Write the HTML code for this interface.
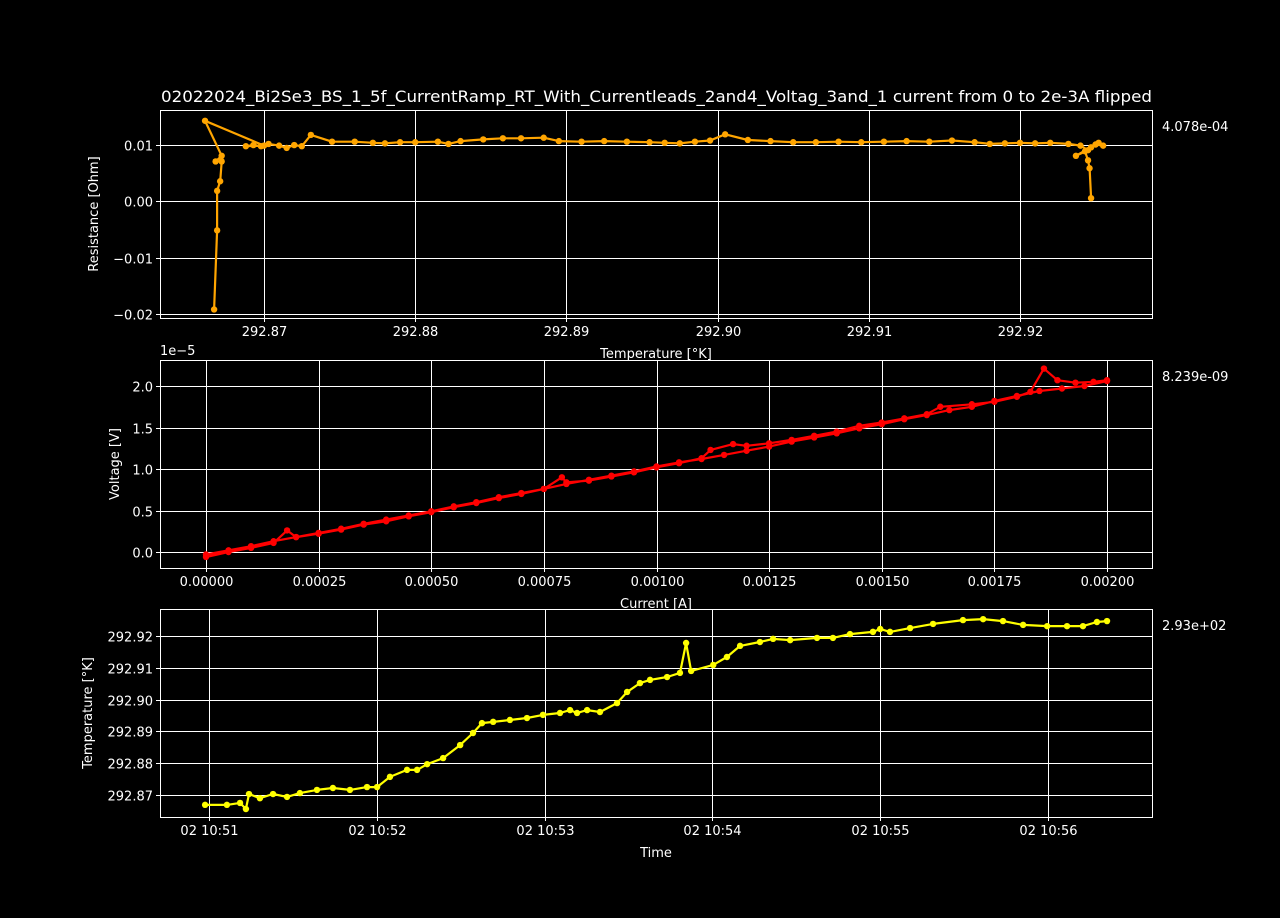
<!DOCTYPE html>
<html><head><meta charset="utf-8"><style>
html,body{margin:0;padding:0;background:#000;}
svg{display:block;font-family:"DejaVu Sans","Liberation Sans",sans-serif;}
</style></head><body>
<svg id="fig" width="1280" height="918" viewBox="0 0 1280 918">
<rect width="1280" height="918" fill="#000"/>
<text x="161" y="102" fill="#fff" font-size="16" textLength="991" lengthAdjust="spacingAndGlyphs">02022024_Bi2Se3_BS_1_5f_CurrentRamp_RT_With_Currentleads_2and4_Voltag_3and_1 current from 0 to 2e-3A flipped</text>
</svg>
<script>
// ---- Panel 1: Resistance vs Temperature ----
const rtTemperature = [292.8667,292.8669,292.8669,292.8671,292.8672,292.8668,292.8672,292.8661,292.8700,292.8688,292.8693,292.8698,292.8703,292.8710,292.8715,292.8720,292.8725,292.8731,292.8745,292.8760,292.8772,292.8780,292.8790,292.8800,292.8815,292.8822,292.8830,292.8845,292.8858,292.8870,292.8885,292.8895,292.8910,292.8925,292.8940,292.8955,292.8965,292.8975,292.8985,292.8995,292.9005,292.9020,292.9035,292.9050,292.9065,292.9080,292.9095,292.9110,292.9125,292.9140,292.9155,292.9170,292.9180,292.9190,292.9200,292.9210,292.9220,292.9232,292.9240,292.9245,292.9237,292.9250,292.9255,292.9252,292.9247,292.9243,292.9245,292.9246,292.9247];
const rtResistance = [-0.0192,-0.0052,0.0018,0.0035,0.0070,0.0070,0.0080,0.0142,0.0098,0.0097,0.0099,0.0097,0.0101,0.0098,0.0094,0.0099,0.0097,0.0117,0.0105,0.0105,0.0103,0.0102,0.0104,0.0104,0.0105,0.0101,0.0106,0.0109,0.0111,0.0111,0.0112,0.0106,0.0105,0.0106,0.0105,0.0104,0.0103,0.0102,0.0105,0.0107,0.0118,0.0108,0.0106,0.0104,0.0104,0.0105,0.0104,0.0105,0.0106,0.0105,0.0107,0.0104,0.0101,0.0102,0.0103,0.0102,0.0103,0.0101,0.0098,0.0090,0.0080,0.0100,0.0098,0.0103,0.0095,0.0088,0.0072,0.0058,0.0005];
const rtXTicks = [292.87,292.88,292.89,292.90,292.91,292.92];
const rtYTicks = [-0.02,-0.01,0.00,0.01];

// ---- Panel 2: Voltage vs Current (current in mA, voltage in 1e-5 V) ----
const ivCurrentMA = [0,0.05,0.10,0.15,0.18,0.20,0.25,0.30,0.35,0.40,0.45,0.50,0.55,0.60,0.65,0.70,0.75,0.79,0.80,0.85,0.90,0.95,1.00,1.05,1.10,1.12,1.17,1.20,1.25,1.30,1.35,1.40,1.45,1.50,1.55,1.60,1.63,1.70,1.75,1.80,1.83,1.86,1.89,1.93,1.97,2.00,
 2.00,1.95,1.90,1.85,1.80,1.75,1.70,1.65,1.60,1.55,1.50,1.45,1.40,1.35,1.30,1.25,1.20,1.15,1.10,1.05,1.00,0.95,0.90,0.85,0.80,0.75,0.70,0.65,0.60,0.55,0.50,0.45,0.40,0.35,0.30,0.25,0.20,0.15,0.10,0.05,0.00];
const ivVoltageE5 = [-0.06,0.00,0.05,0.11,0.26,0.18,0.22,0.27,0.33,0.37,0.43,0.48,0.54,0.59,0.65,0.70,0.76,0.90,0.84,0.86,0.91,0.96,1.02,1.07,1.13,1.23,1.30,1.28,1.31,1.35,1.40,1.45,1.52,1.56,1.61,1.66,1.75,1.78,1.81,1.87,1.93,2.21,2.07,2.04,2.05,2.07,
 2.06,2.00,1.97,1.94,1.88,1.82,1.75,1.71,1.65,1.60,1.54,1.49,1.43,1.38,1.33,1.27,1.22,1.17,1.12,1.08,1.03,0.97,0.92,0.87,0.82,0.76,0.71,0.66,0.60,0.55,0.49,0.44,0.39,0.34,0.28,0.23,0.18,0.13,0.07,0.02,-0.03];
const ivXTicks = [0,0.25,0.5,0.75,1.0,1.25,1.5,1.75,2.0];
const ivXTickLabels = ["0.00000","0.00025","0.00050","0.00075","0.00100","0.00125","0.00150","0.00175","0.00200"];
const ivYTicks = [0,0.5,1.0,1.5,2.0];

// ---- Panel 3: Temperature vs Time (seconds after 10:51:00) ----
const tsSeconds = [-1.4,6.4,11.1,13.2,14.3,18.2,22.9,27.9,32.5,38.6,44.3,50.4,56.5,60.1,64.7,70.8,74.4,78.0,83.7,89.8,94.4,97.6,101.6,107.6,113.7,119.4,125.5,129.1,131.6,135.2,139.8,145.9,149.5,154.1,157.7,163.8,168.4,170.6,172.4,180.3,185.2,189.9,197.0,201.7,207.8,217.4,223.1,229.2,237.4,240.0,243.5,250.7,258.9,269.6,276.8,283.9,291.1,299.7,306.8,312.5,317.5,321.1];
const tsTemperature = [292.8669,292.8669,292.8675,292.8656,292.8703,292.8690,292.8703,292.8694,292.8706,292.8716,292.8722,292.8716,292.8725,292.8725,292.8757,292.8779,292.8779,292.8797,292.8816,292.8857,292.8895,292.8926,292.8930,292.8936,292.8942,292.8952,292.8958,292.8967,292.8958,292.8967,292.8961,292.8989,292.9024,292.9052,292.9062,292.9071,292.9084,292.9178,292.9090,292.9109,292.9134,292.9169,292.9181,292.9191,292.9187,292.9194,292.9194,292.9206,292.9213,292.9222,292.9213,292.9225,292.9238,292.9250,292.9253,292.9247,292.9235,292.9231,292.9231,292.9231,292.9244,292.9247];
const tsXTicks = [0,60,120,180,240,300];
const tsXTickLabels = ["02 10:51","02 10:52","02 10:53","02 10:54","02 10:55","02 10:56"];
const tsYTicks = [292.87,292.88,292.89,292.90,292.91,292.92];

const NS = "http://www.w3.org/2000/svg";
const fig = document.getElementById('fig');
function mk(tag, attrs, parent){
  const e = document.createElementNS(NS, tag);
  for (const k in attrs) e.setAttribute(k, attrs[k]);
  (parent||fig).appendChild(e);
  return e;
}
function lin(d0,d1,r0,r1){ return v => r0 + (v-d0)/(d1-d0)*(r1-r0); }
function snap(v){ return Math.round(v) + 0.5; }

function panel(cfg){
  const g = mk('g', {});
  
  
  const {L,R,T,B} = cfg;
  cfg.xTicks.forEach((v,i)=>{
    const x = snap(cfg.xs(v));
    const gl = mk('line',{x1:x,x2:x,y1:T,y2:B,stroke:'#fff','stroke-width':1},g);
    
    
    mk('line',{x1:x,x2:x,y1:B,y2:B+4,stroke:'#fff','stroke-width':1},g);
    const t = mk('text',{x:x,y:B+18,fill:'#fff','font-size':13,'text-anchor':'middle'},g);
    
    
    t.textContent = cfg.xLabels[i];
  });
  cfg.yTicks.forEach((v,i)=>{
    const y = snap(cfg.ys(v));
    const gl = mk('line',{x1:L,x2:R,y1:y,y2:y,stroke:'#fff','stroke-width':1},g);
    
    
    mk('line',{x1:L-4,x2:L,y1:y,y2:y,stroke:'#fff','stroke-width':1},g);
    const t = mk('text',{x:L-7,y:y+5,fill:'#fff','font-size':13,'text-anchor':'end'},g);
    
    
    t.textContent = cfg.yLabels[i];
  });
  const xs = cfg.xData, ys = cfg.yData;
  let d = '';
  xs.forEach((v,i)=>{ d += (i?'L':'M') + cfg.xs(v).toFixed(1) + ',' + cfg.ys(ys[i]).toFixed(1); });
  const p = mk('path',{d:d,fill:'none',stroke:cfg.color,'stroke-width':2.2,'stroke-linejoin':'round'},g);
  
  
  xs.forEach((v,i)=>{
    const c = mk('circle',{cx:cfg.xs(v),cy:cfg.ys(ys[i]),r:3.2,fill:cfg.color},g);
    
    
  });
  const fr = mk('rect',{x:L+0.5,y:T+0.5,width:R-L,height:B-T,fill:'none',stroke:'#fff','stroke-width':1},g);
  
  
  const xl = mk('text',{x:(L+R)/2,y:B+40,fill:'#fff','font-size':13,'text-anchor':'middle'},g);
  
  
  xl.textContent = cfg.xTitle;
  const cy = (T+B)/2;
  const yl = mk('text',{x:cfg.yTitleX,y:cy,fill:'#fff','font-size':13,'text-anchor':'middle',transform:`rotate(-90 ${cfg.yTitleX} ${cy})`},g);
  
  
  yl.textContent = cfg.yTitle;
  const side = mk('text',{x:1162,y:T+21,fill:'#fff','font-size':13},g);
  
  
  side.textContent = cfg.side;
  if (cfg.offset){
    const o = mk('text',{x:L,y:T-5,fill:'#fff','font-size':13},g);
    
    
    o.textContent = cfg.offset;
  }
}

panel({name:'resistance-panel',L:160,R:1152,T:110,B:318,
  xs:lin(292.87,292.92,264,1020), ys:lin(0,0.01,201,144.5),
  xTicks:rtXTicks, xLabels:rtXTicks.map(v=>v.toFixed(2)),
  yTicks:rtYTicks, yLabels:rtYTicks.map(v=>(v<0?'\u2212':'')+Math.abs(v).toFixed(2)),
  xData:rtTemperature, yData:rtResistance, color:'#ffa500', seriesName:'resistance-series',
  xTitle:'Temperature [°K]', yTitle:'Resistance [Ohm]', yTitleX:98, side:'4.078e-04'});

panel({name:'voltage-panel',L:160,R:1152,T:360,B:568,
  xs:lin(0,2,206,1107), ys:lin(0,2,552,386),
  xTicks:ivXTicks, xLabels:ivXTickLabels,
  yTicks:ivYTicks, yLabels:ivYTicks.map(v=>v.toFixed(1)),
  xData:ivCurrentMA, yData:ivVoltageE5, color:'#ff0000', seriesName:'voltage-series',
  xTitle:'Current [A]', yTitle:'Voltage [V]', yTitleX:119, side:'8.239e-09', offset:'1e\u22125'});

panel({name:'temperature-panel',L:160,R:1152,T:609,B:817,
  xs:lin(0,300,209,1048), ys:lin(292.87,292.92,795,636),
  xTicks:tsXTicks, xLabels:tsXTickLabels,
  yTicks:tsYTicks, yLabels:tsYTicks.map(v=>v.toFixed(2)),
  xData:tsSeconds, yData:tsTemperature, color:'#ffff00', seriesName:'temperature-series',
  xTitle:'Time', yTitle:'Temperature [°K]', yTitleX:92, side:'2.93e+02'});
</script>
</body></html>
